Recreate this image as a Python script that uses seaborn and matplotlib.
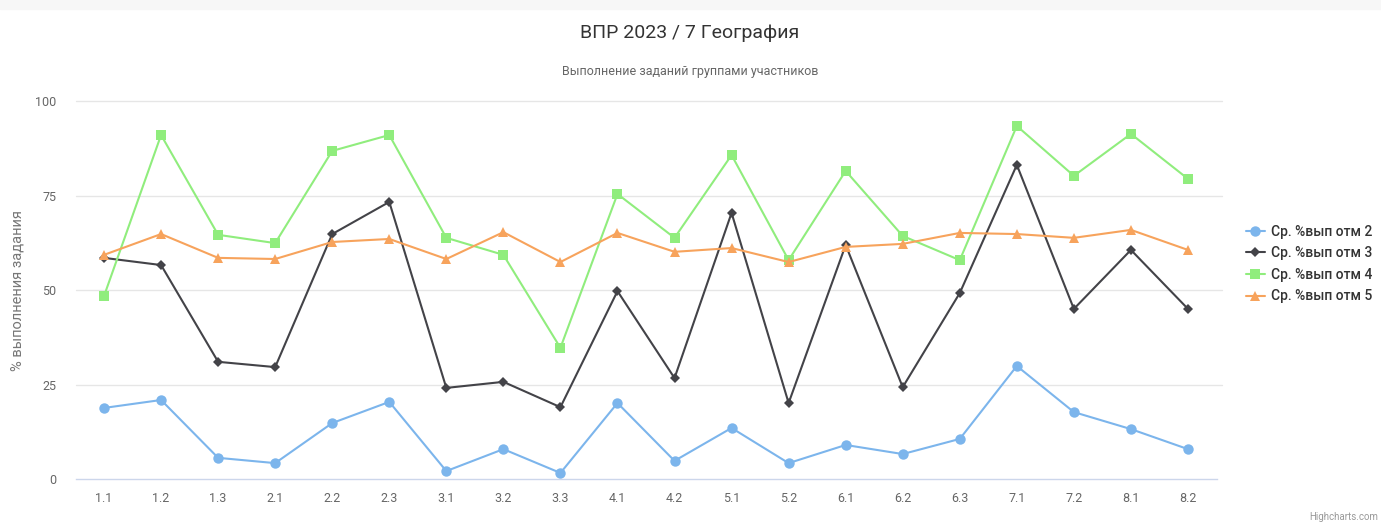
import matplotlib
matplotlib.use("Agg")
import matplotlib.pyplot as plt
import seaborn as sns
import pandas as pd

tasks = ["1.1", "1.2", "1.3", "2.1", "2.2", "2.3", "3.1", "3.2", "3.3", "4.1",
         "4.2", "5.1", "5.2", "6.1", "6.2", "6.3", "7.1", "7.2", "8.1", "8.2"]

grade2 = [18.8, 20.9, 5.6, 4.2, 14.8, 20.4, 2.1, 7.9, 1.6, 20.1,
          4.8, 13.5, 4.2, 9.0, 6.6, 10.6, 29.9, 17.7, 13.2, 7.9]
grade3 = [58.5, 56.6, 31.0, 29.6, 64.8, 73.3, 24.1, 25.7, 19.0, 49.7,
          26.7, 70.4, 20.1, 61.9, 24.3, 49.2, 83.1, 45.0, 60.6, 45.0]
grade4 = [48.4, 91.0, 64.6, 62.4, 86.8, 91.0, 63.8, 59.3, 34.7, 75.4,
          63.8, 85.7, 57.9, 81.5, 64.3, 57.9, 93.4, 80.2, 91.3, 79.4]
grade5 = [59.3, 64.8, 58.5, 58.2, 62.7, 63.5, 58.2, 65.3, 57.4, 65.1,
          60.1, 61.1, 57.4, 61.4, 62.2, 65.1, 64.8, 63.8, 65.9, 60.6]

series_names = ["Ср. %вып отм 2", "Ср. %вып отм 3", "Ср. %вып отм 4", "Ср. %вып отм 5"]
series_values = [grade2, grade3, grade4, grade5]
y_ticks = [0, 25, 50, 75, 100]

colors = ["#7cb5ec", "#434348", "#90ed7d", "#f7a35c"]
markers = ["o", "D", "s", "^"]
marker_sizes = [7.5, 5.5, 7.5, 7.5]

FONT = ["Liberation Sans Narrow", "Roboto", "DejaVu Sans"]

sns.set_theme(style="white")
plt.rcParams["font.family"] = FONT

frames = []
for name, vals in zip(series_names, series_values):
    frames.append(pd.DataFrame({"pos": range(len(tasks)), "task": tasks,
                                "value": vals, "series": name}))
df = pd.concat(frames, ignore_index=True)

W, H = 1381, 530
fig = plt.figure(figsize=(W / 100, H / 100), dpi=100)
fig.patch.set_facecolor("white")
left, right, top, bottom = 75.5, 1216.5, 101, 479
ax = fig.add_axes([left / W, 1 - bottom / H, (right - left) / W, (bottom - top) / H])

# light strip along the top edge
fig.add_artist(plt.Rectangle((0, 1 - 9 / H), 1, 9 / H, transform=fig.transFigure,
                             color="#f7f7f7", zorder=0))

# horizontal grid lines run slightly past the last category band
for v in y_ticks[1:]:
    ax.plot([-0.5, len(tasks) - 0.5 + 5.5 / 57.05], [v, v], color="#e6e6e6",
            linewidth=1, zorder=1, clip_on=False)

handles = []
for i, name in enumerate(series_names):
    sub = df[df["series"] == name]
    sns.lineplot(data=sub, x="pos", y="value", ax=ax, color=colors[i], linewidth=1.5,
                 marker=markers[i], markersize=marker_sizes[i], markeredgewidth=0,
                 markeredgecolor=colors[i], sort=False, legend=False, clip_on=False,
                 zorder=3 + i)
    handles.append(plt.Line2D([], [], color=colors[i], linewidth=1.5, marker=markers[i],
                              markersize=marker_sizes[i], markeredgewidth=0))

ax.set_xlim(-0.5, len(tasks) - 0.5)
ax.set_ylim(0, 100)
ax.set_xticks(range(len(tasks)))
ax.set_xticklabels(tasks)
ax.set_yticks(y_ticks)
ax.tick_params(axis="both", length=0, labelsize=9, colors="#666666")
ax.tick_params(axis="x", pad=9)
ax.tick_params(axis="y", pad=14)
ax.grid(False)
for s in ["top", "right", "left"]:
    ax.spines[s].set_visible(False)
ax.spines["bottom"].set_color("#ccd6eb")
ax.spines["bottom"].set_linewidth(1)
ax.set_xlabel("")
ax.set_ylabel("% выполнения задания", fontsize=10.5, color="#777777")
ax.yaxis.set_label_coords(-(75.5 - 25) / (right - left), 0.5)

fig.text(690 / W, 1 - 33 / H, "ВПР 2023 / 7 География", ha="center", va="center",
         fontsize=14, color="#333333")
fig.text(690 / W, 1 - 72 / H, "Выполнение заданий группами участников", ha="center",
         va="center", fontsize=9, color="#666666")

leg = fig.legend(handles, series_names, loc="upper left",
                 bbox_to_anchor=(1240 / W, 1 - 219 / H), frameon=False,
                 fontsize=10, handlelength=1.4, handletextpad=0.4, labelspacing=0.55,
                 borderaxespad=0)
for t in leg.get_texts():
    t.set_color("#333333")
    t.set_fontweight("medium")

fig.text(1378 / W, 1 - 517 / H, "Highcharts.com", ha="right", va="center",
         fontsize=7, color="#999999")

fig.savefig("out.png", dpi=100)
